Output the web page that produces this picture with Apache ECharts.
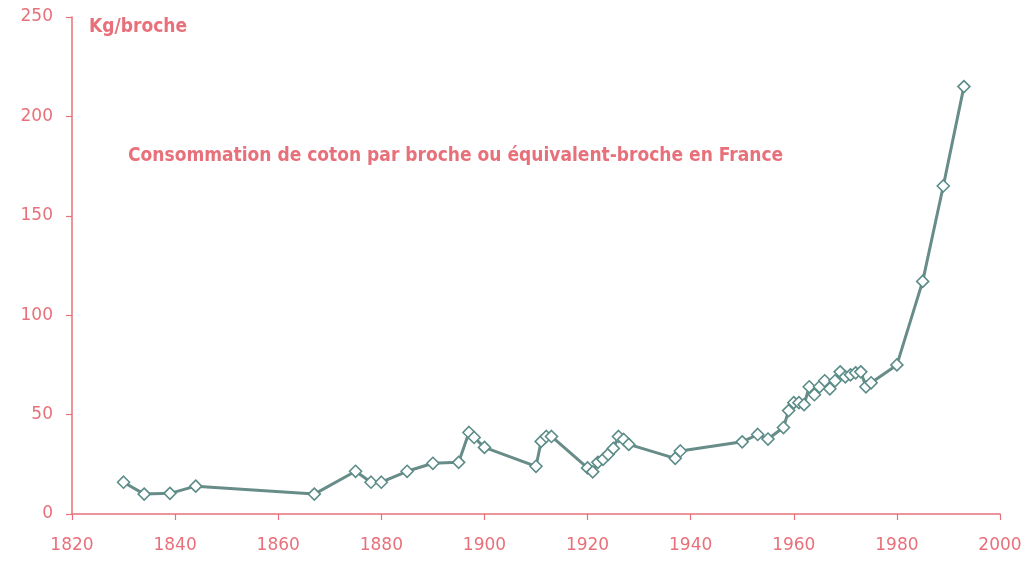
<!DOCTYPE html>
<html>
<head>
<meta charset="utf-8">
<script src="https://cdn.jsdelivr.net/npm/echarts@6/dist/echarts.min.js"></script>
<style>
  html, body { margin: 0; padding: 0; background: #fff; }
  #chart { width: 1036px; height: 561px; }
</style>
</head>
<body>
<div id="chart"></div>
<script>
// années et consommation (kg par broche)
const years = [1830, 1834, 1839, 1844, 1867, 1875, 1878, 1880, 1885, 1890, 1895, 1897, 1898, 1900,
  1910, 1911, 1912, 1913, 1920, 1921, 1922, 1923, 1924, 1925, 1926, 1927, 1928, 1937, 1938,
  1950, 1953, 1955, 1958, 1959, 1960, 1961, 1962, 1963, 1964, 1965, 1966, 1967, 1968, 1969,
  1970, 1971, 1972, 1973, 1974, 1975, 1980, 1985, 1989, 1993];
const kgParBroche = [16, 10, 10.4, 14, 10, 21.5, 16, 16, 21.5, 25.5, 26, 41, 38.5, 33.5,
  24, 36.5, 39, 39, 23.2, 21.2, 26, 27.5, 30, 33, 39, 37.5, 35, 28, 31.7,
  36.3, 40, 37.7, 43.5, 52, 56, 56, 55, 64, 60, 64, 67, 63, 67, 71.5,
  69, 70, 71, 71.5, 64, 66, 75, 117, 165, 215];

const xTicks = [1820, 2000, 20];   // min, max, pas
const yTicks = [0, 250, 50];

const rose = '#e8707a';
const font = 'DejaVu Sans';
const fontTitre = 'DejaVu Sans Condensed';

const chart = echarts.init(document.getElementById('chart'));

const option = {
  backgroundColor: '#fff',
  animation: false,
  title: [
    {
      text: 'Kg/broche',
      left: 84, top: 13,
      textStyle: { color: rose, fontFamily: fontTitre, fontWeight: 'bold', fontSize: 19 }
    },
    {
      text: 'Consommation de coton par broche ou équivalent-broche en France',
      left: 123, top: 142,
      textStyle: { color: rose, fontFamily: fontTitre, fontWeight: 'bold', fontSize: 19 }
    }
  ],
  grid: { left: 72, right: 36, top: 17, bottom: 47 },
  xAxis: {
    type: 'value',
    min: xTicks[0], max: xTicks[1], interval: xTicks[2],
    axisLine: { show: true, onZero: false, lineStyle: { color: rose, width: 1.5 } },
    axisTick: { show: true, length: 6, lineStyle: { color: rose, width: 1.2 } },
    axisLabel: { color: rose, fontFamily: font, fontSize: 17, margin: 23, formatter: v => String(v) },
    splitLine: { show: false }
  },
  yAxis: {
    type: 'value',
    min: yTicks[0], max: yTicks[1], interval: yTicks[2],
    axisLine: { show: true, onZero: false, lineStyle: { color: rose, width: 1.5 } },
    axisTick: { show: true, length: 6, lineStyle: { color: rose, width: 1.2 } },
    axisLabel: { color: rose, fontFamily: font, fontSize: 17, margin: 19 },
    splitLine: { show: false }
  },
  series: [
    {
      type: 'line',
      data: years.map((y, i) => [y, kgParBroche[i]]),
      symbol: 'diamond',
      symbolSize: 12,
      showAllSymbol: true,
      lineStyle: { color: '#688c88', width: 3 },
      itemStyle: { color: '#fff', borderColor: '#5b8c88', borderWidth: 1.6 }
    }
  ]
};

chart.setOption(option);
</script>
</body>
</html>
